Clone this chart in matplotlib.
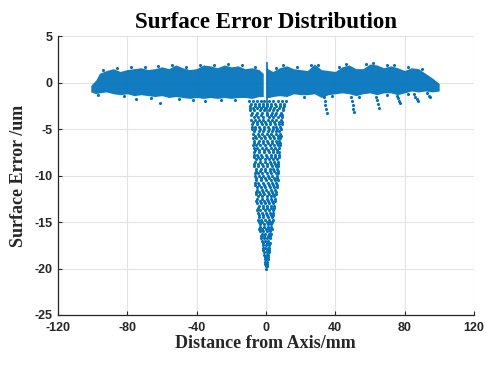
import numpy as np
import matplotlib.pyplot as plt

# 帯状の誤差分布（上端・下端の包絡線）
band_x = [-101, -98, -96, -92, -88, -84, -80, -76, -72, -68, -64, -60, -56, -52,
          -48, -44, -40, -36, -32, -28, -24, -20, -16, -12, -8, -4, -1.5, 0.3, 2, 4,
          8, 12, 16, 20, 24, 28, 32, 36, 40, 44, 48, 52, 56, 60, 64, 68, 72, 76,
          80, 84, 88, 92, 96, 100]
band_top = [-0.3, 0.3, 1.0, 1.3, 1.5, 1.2, 1.4, 1.5, 1.6, 1.4, 1.5, 1.7, 1.5, 1.9,
            1.6, 1.4, 1.5, 1.9, 1.8, 1.6, 1.9, 1.7, 1.8, 1.5, 1.6, 1.4, 1.0, 1.6, 1.4, 1.2,
            1.6, 1.8, 1.5, 1.4, 1.3, 2.0, 1.4, 1.3, 1.2, 1.7, 1.9, 1.5, 1.5, 2.0, 1.9, 1.6,
            1.8, 1.6, 1.3, 1.6, 1.5, 1.0, 0.5, -0.1]
band_bot = [-1.0, -1.2, -1.1, -1.0, -1.2, -1.3, -1.2, -1.4, -1.3, -1.4, -1.5, -1.4, -1.6, -1.5,
            -1.6, -1.7, -1.6, -1.7, -1.6, -1.7, -1.6, -1.7, -1.6, -1.6, -1.7, -1.5, -1.5, -1.6, -1.6, -1.5,
            -1.4, -1.5, -1.2, -1.3, -1.3, -1.2, -1.6, -1.3, -1.2, -1.1, -1.2, -1.4, -1.2, -1.1, -1.3, -1.1,
            -1.1, -1.3, -1.1, -0.9, -1.0, -0.9, -1.0, -0.9]

# 帯の縁のはみ出し点
edge_x = [-94, -86, -78, -70, -62, -54, -46, -38, -30, -22, -14, -6, 6, 10, 18, 26, 30,
          42, 46, 58, 62, 70, 74, 82, 90, -97, -82, -66, -50, -42, -26, -18, 22, 38,
          54, 70, 82]
edge_y = [1.35, 1.55, 1.65, 1.7, 1.8, 1.9, 1.7, 1.9, 1.9, 2.0, 1.85, 1.7, 1.6, 1.9, 1.65, 1.85, 1.9,
          1.65, 2.0, 1.95, 2.15, 1.9, 1.9, 1.65, 1.45, -1.35, -1.45, -1.65, -1.75, -1.85, -1.85, -1.85,
          -1.5, -1.45, -1.5, -1.3, -1.2]

# 中心付近のV字状の落ち込み（行ごとの点）
dip_y = [-2.0, -2.5, -3.0, -3.5, -4.0, -4.5, -5.0, -5.5, -6.0, -6.5, -7.0, -7.5, -8.0,
         -8.5, -9.0, -9.5, -10.0, -10.5, -11.0, -11.5, -12.0, -12.5, -13.0, -13.5, -14.0,
         -14.5, -15.0, -15.5, -16.0, -16.5, -17.0, -17.5, -18.0, -18.5, -19.0, -19.5, -20.0]
dip_x = [
    [-9.6, -7.2, -5.1, -3.0, -0.8, 1.9, 4.3, 6.8, 9.1, 11.4],
    [-8.9, -6.4, -4.2, -1.9, 0.9, 3.2, 5.7, 8.2, 10.5],
    [-9.1, -6.9, -3.5, -1.2, 1.6, 4.1, 6.5, 9.7],
    [-8.3, -5.6, -2.7, 0.4, 2.8, 5.2, 7.9, 9.6],
    [-8.5, -6.1, -4.0, -1.5, 1.1, 3.7, 6.1, 8.8],
    [-7.7, -5.0, -2.4, 0.2, 2.5, 5.0, 7.4, 9.1],
    [-7.9, -6.0, -3.3, -0.9, 1.8, 4.4, 6.6, 8.6],
    [-7.4, -4.8, -2.1, 0.7, 3.2, 5.6, 8.3],
    [-7.5, -5.4, -2.9, -0.3, 2.4, 4.7, 7.0, 8.4],
    [-6.8, -4.3, -1.6, 1.1, 3.6, 6.2, 7.9],
    [-7.1, -5.1, -2.5, 0.1, 2.9, 5.3, 7.6],
    [-6.6, -3.8, -1.2, 1.7, 4.2, 6.6, 7.8],
    [-6.9, -4.6, -2.0, 0.6, 3.1, 5.5, 7.4],
    [-6.2, -3.4, -0.7, 2.2, 4.6, 7.0],
    [-6.7, -4.4, -1.8, 0.9, 3.5, 5.9, 7.3],
    [-5.9, -3.1, -0.4, 2.4, 4.9, 6.9],
    [-6.4, -4.1, -1.5, 1.3, 3.8, 6.2],
    [-5.6, -2.8, -0.1, 2.7, 5.1, 6.8],
    [-6.0, -3.7, -1.1, 1.6, 4.0, 6.3],
    [-5.3, -2.4, 0.3, 2.9, 5.4],
    [-5.6, -3.3, -0.8, 1.8, 4.2, 5.8],
    [-4.9, -2.1, 0.6, 3.0, 5.2],
    [-5.2, -2.9, -0.4, 2.1, 4.4],
    [-4.5, -1.7, 0.9, 3.2, 4.8],
    [-4.8, -2.5, 0.0, 2.3, 4.3],
    [-4.1, -1.4, 1.1, 3.4],
    [-4.2, -2.0, 0.4, 2.5, 3.7],
    [-3.5, -1.1, 1.3, 3.2],
    [-3.3, -1.5, 0.5, 2.4],
    [-2.8, -0.8, 1.2, 2.6],
    [-2.3, -0.4, 1.5],
    [-1.8, 0.1, 1.9],
    [-1.4, 0.4, 1.6],
    [-1.0, 0.6, 1.3],
    [-0.6, 0.3, 1.0],
    [-0.2, 0.7],
    [0.3],
]
# 行の間の点
dip_y_mid = [-2.25, -2.75, -3.25, -3.75, -4.25, -4.75, -5.25, -5.75, -6.25, -6.75, -7.25,
             -7.75, -8.25, -8.75, -9.25, -9.75, -10.25, -10.75, -11.25, -11.75, -12.25,
             -12.75, -13.25, -13.75, -14.25, -14.75, -15.25, -15.75, -16.25, -16.75,
             -17.25, -17.75, -18.25, -18.75, -19.25, -19.75]
dip_x_mid = [
    [-8.4, -6.0, -4.0, -1.6, 0.5, 3.0, 5.5, 7.9, 10.2],
    [-9.3, -7.6, -5.3, -2.6, -0.2, 2.4, 4.8, 7.4, 10.1],
    [-8.0, -5.0, -2.2, 0.9, 3.5, 6.0, 8.6],
    [-7.1, -4.6, -1.9, 1.6, 4.3, 6.8, 9.2],
    [-7.3, -5.2, -3.0, -0.4, 2.2, 4.9, 7.4, 9.3],
    [-8.1, -6.3, -3.8, -1.2, 1.4, 3.9, 6.1, 8.3],
    [-6.9, -4.2, -1.6, 1.0, 3.7, 6.0, 7.7],
    [-6.2, -3.7, -1.1, 1.9, 4.4, 6.9, 8.5],
    [-6.7, -4.1, -1.9, 0.8, 3.4, 6.0, 7.6],
    [-7.2, -5.6, -3.2, -0.4, 2.2, 4.8, 7.0, 8.1],
    [-6.2, -3.7, -1.3, 1.5, 4.1, 6.6],
    [-7.0, -5.2, -2.6, 0.2, 2.9, 5.4, 7.5],
    [-5.8, -3.2, -0.6, 2.0, 4.3, 6.5],
    [-6.6, -4.8, -2.3, 0.4, 3.1, 5.5, 7.3],
    [-5.5, -2.9, -0.3, 2.3, 4.4, 6.6],
    [-6.3, -4.6, -2.2, 0.6, 3.2, 5.6, 7.1],
    [-5.4, -2.9, -0.5, 2.1, 4.6, 6.6],
    [-6.1, -4.3, -1.7, 1.0, 3.7, 6.0],
    [-5.0, -2.8, -0.2, 2.5, 4.8, 6.4],
    [-5.7, -3.9, -1.4, 1.3, 3.8, 5.9],
    [-4.5, -2.0, 0.5, 2.7, 4.9],
    [-5.4, -3.6, -1.2, 1.4, 3.7, 5.4],
    [-4.0, -1.6, 0.8, 3.0, 4.9],
    [-5.0, -3.2, -0.7, 1.7, 4.0],
    [-4.1, -1.7, 0.6, 2.9, 4.4],
    [-4.5, -2.6, -0.3, 1.9, 3.9],
    [-3.4, -1.2, 1.0, 3.0],
    [-3.7, -2.0, 0.0, 2.0, 3.3],
    [-2.4, -0.3, 1.6, 2.9],
    [-2.6, -1.3, 0.6, 2.2],
    [-1.6, 0.5, 2.2],
    [-1.9, -0.5, 1.1, 2.0],
    [-0.9, 0.9, 1.7],
    [-0.7, 0.1, 1.1],
    [-0.5, 0.5],
    [0.1, 0.6],
]

# 右側の筋状の落ち込みと外れ点
streak_x = [33.5, 34.0, 34.3, 34.6, 35.0, 49.0, 49.5, 50.0, 50.4, 50.8,
            63.5, 64.0, 64.6, 65.0, 75.5, 76.2, 77.0, 77.5, 85.5, 86.3, 87.0, 87.6,
            93.0, 94.0, 94.8, -61.0, -75.0, -35.0]
streak_y = [-1.6, -2.0, -2.4, -2.8, -3.3, -1.6, -2.0, -2.4, -2.8, -3.2,
            -1.5, -1.9, -2.3, -2.7, -1.4, -1.7, -2.0, -2.2, -1.2, -1.5, -1.8, -2.0,
            -1.1, -1.4, -1.6, -2.2, -1.8, -2.0]

# 中心軸上の縦線
axis_line_x = [0.6, 0.6]
axis_line_y = [2.1, -3.5]

blue = '#0072BD'
dark = '#262626'
plt.rcParams['axes.unicode_minus'] = False

fig = plt.figure(figsize=(4.86, 3.65), dpi=100)
ax = fig.add_axes([0.119, 0.137, 0.856, 0.764])

bx = np.array(band_x)
bt = np.array(band_top)
bb = np.array(band_bot)
left = bx <= -1.5
right = bx >= 0.3
ax.fill_between(bx[left], bb[left], bt[left], color=blue, lw=0, alpha=0.93)
ax.fill_between(bx[right], bb[right], bt[right], color=blue, lw=0, alpha=0.93)
ax.scatter(edge_x, edge_y, s=5, color=blue, lw=0)

px = []
py = []
for ys, xss in [(dip_y, dip_x), (dip_y_mid, dip_x_mid)]:
    for yv, xs in zip(ys, xss):
        for xv in xs:
            px.append(xv)
            py.append(yv)
ax.scatter(px, py, s=5, color=blue, lw=0)
ax.scatter(streak_x, streak_y, s=5, color=blue, lw=0)
ax.plot(axis_line_x, axis_line_y, color=blue, lw=1.2)

ax.set_xlim(-120, 120)
ax.set_ylim(-25, 5)
ax.set_xticks(np.arange(-120, 121, 40))
ax.set_yticks(np.arange(-25, 6, 5))
ax.grid(True, color='#e3e3e3', lw=0.8)
ax.set_axisbelow(True)
for s in ['top', 'right']:
    ax.spines[s].set_visible(False)
for s in ['left', 'bottom']:
    ax.spines[s].set_color(dark)
    ax.spines[s].set_linewidth(0.9)
ax.tick_params(direction='in', length=3, colors=dark, labelsize=9)
ax.tick_params(axis='x', pad=5)
ax.tick_params(axis='y', pad=4)
for lab in ax.get_xticklabels() + ax.get_yticklabels():
    lab.set_fontfamily('Liberation Sans')
    lab.set_fontweight('bold')

ax.set_title('Surface Error Distribution', fontfamily='Liberation Serif',
             fontweight='bold', fontsize=16.5, pad=6)
ax.set_xlabel('Distance from Axis/mm', fontfamily='Liberation Serif',
              fontweight='bold', fontsize=13, color=dark, labelpad=1)
ax.set_ylabel('Surface Error /um', fontfamily='Liberation Serif',
              fontweight='bold', fontsize=13, color=dark, labelpad=5)

plt.savefig('out.png', dpi=100)
